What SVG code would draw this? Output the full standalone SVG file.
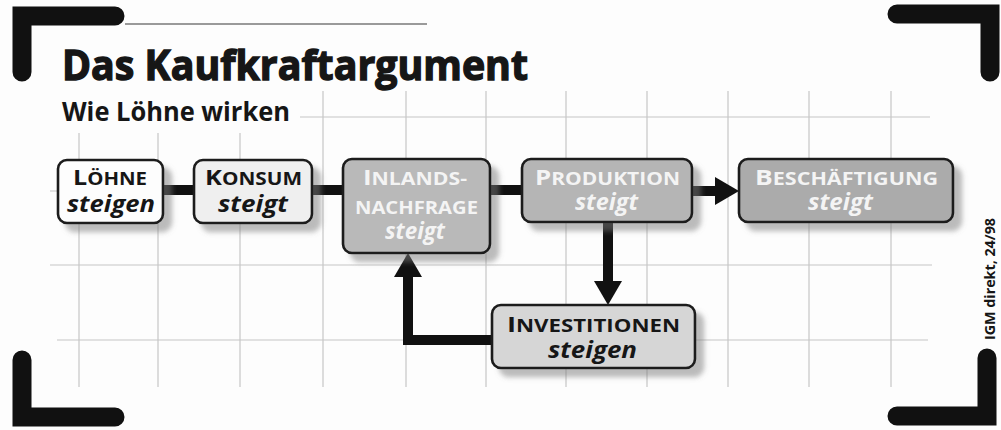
<svg xmlns="http://www.w3.org/2000/svg" width="1001" height="430" viewBox="0 0 1001 430">
<style>
.grid line{stroke:#c6c6c6;stroke-width:1.2}
.brk{fill:none;stroke:#111;stroke-width:19;stroke-linecap:round;stroke-linejoin:miter}
.box{stroke:#1a1a1a;stroke-width:2.6;filter:url(#sh)}
.t{font-family:"Open Sans","Liberation Sans",sans-serif;font-weight:700}
.cap{font-size:21.5px}
.sc{font-size:17.5px}
.it{font-family:"Open Sans","Liberation Sans",sans-serif;font-weight:700;font-style:italic;font-size:24px}
.dk{fill:#161616}
.lt{fill:#f4f4f4}
.con{fill:none;stroke:#111;stroke-width:10}
</style>
<defs>
<filter id="sh" x="-20%" y="-20%" width="150%" height="160%">
<feDropShadow dx="8" dy="8" stdDeviation="2.5" flood-color="#7a7a7a" flood-opacity="0.5"/>
</filter>
<marker id="ah" markerUnits="userSpaceOnUse" markerWidth="26" markerHeight="30" refX="4" refY="14" orient="auto">
<path d="M0,0 L24,14 L0,28 z" fill="#111"/>
</marker>
</defs>
<rect width="1001" height="430" fill="#fdfdfd"/>
<g class="grid">
<line x1="79" y1="133" x2="79" y2="387"/>
<line x1="158" y1="133" x2="158" y2="387"/>
<line x1="240" y1="133" x2="240" y2="387"/>
<line x1="323" y1="91" x2="323" y2="387"/>
<line x1="406" y1="91" x2="406" y2="387"/>
<line x1="486" y1="91" x2="486" y2="387"/>
<line x1="566" y1="91" x2="566" y2="387"/>
<line x1="647" y1="91" x2="647" y2="387"/>
<line x1="728" y1="91" x2="728" y2="387"/>
<line x1="809" y1="91" x2="809" y2="387"/>
<line x1="891" y1="91" x2="891" y2="387"/>
<line x1="300" y1="117" x2="930" y2="117"/>
<line x1="50" y1="191" x2="930" y2="191"/>
<line x1="50" y1="265" x2="932" y2="265"/>
<line x1="57" y1="340" x2="928" y2="340"/>
</g>
<line x1="125" y1="24" x2="427" y2="24" stroke="#9a9a9a" stroke-width="2"/>
<g id="brackets">
<path class="brk" d="M22 72 L22 16 L115 16"/>
<path class="brk" d="M897 14 L990 14 L990 72"/>
<path class="brk" d="M22 360 L22 417 L115 417"/>
<path class="brk" d="M897 416 L987 416 L987 358"/>
</g>
<text x="62" y="80" class="t dk" font-size="42" font-weight="800" stroke="#161616" stroke-width="1.4" textLength="466" lengthAdjust="spacingAndGlyphs">Das Kaufkraftargument</text>
<text x="62" y="121" font-family="Open Sans, Liberation Sans, sans-serif" font-weight="700" font-size="27" fill="#161616" textLength="228" lengthAdjust="spacingAndGlyphs">Wie Löhne wirken</text>
<g id="connectors">
<path class="con" d="M163 190 H194"/>
<path class="con" d="M312 190 H343"/>
<path class="con" d="M490 190 H522"/>
<path class="con" d="M692 191 H719" marker-end="url(#ah)"/>
<path class="con" d="M608 222 V285" marker-end="url(#ah)"/>
<path class="con" d="M492 340 H408 V273" marker-end="url(#ah)"/>
</g>
<g id="loehne">
<rect class="box" x="58" y="160" width="105" height="63" rx="9" fill="#fdfdfd"/>
<text x="73" y="185" class="t dk" textLength="74" lengthAdjust="spacingAndGlyphs"><tspan class="cap">L</tspan><tspan class="sc">ÖHNE</tspan></text>
<text x="67" y="212" class="it dk" textLength="88" lengthAdjust="spacingAndGlyphs">steigen</text>
</g>
<g id="konsum">
<rect class="box" x="194" y="160" width="118" height="63" rx="9" fill="#efefef"/>
<text x="205" y="185" class="t dk" textLength="97" lengthAdjust="spacingAndGlyphs"><tspan class="cap">K</tspan><tspan class="sc">ONSUM</tspan></text>
<text x="218" y="212" class="it dk" textLength="70" lengthAdjust="spacingAndGlyphs">steigt</text>
</g>
<g id="inlandsnachfrage">
<rect class="box" x="343" y="159" width="147" height="94" rx="9" fill="#b9b9b9"/>
<text x="363" y="185" class="t lt" textLength="104" lengthAdjust="spacingAndGlyphs"><tspan class="cap">I</tspan><tspan class="sc">NLANDS-</tspan></text>
<text x="355" y="214" class="t lt sc" textLength="123" lengthAdjust="spacingAndGlyphs">NACHFRAGE</text>
<text x="385" y="239" class="it lt" font-size="22" textLength="60" lengthAdjust="spacingAndGlyphs">steigt</text>
</g>
<g id="produktion">
<rect class="box" x="522" y="159" width="170" height="63" rx="9" fill="#b5b5b5"/>
<text x="535" y="185" class="t lt" textLength="145" lengthAdjust="spacingAndGlyphs"><tspan class="cap">P</tspan><tspan class="sc">RODUKTION</tspan></text>
<text x="575" y="210" class="it lt" font-size="22" textLength="63" lengthAdjust="spacingAndGlyphs">steigt</text>
</g>
<g id="beschaeftigung">
<rect class="box" x="739" y="159" width="214" height="63" rx="9" fill="#ababab"/>
<text x="755" y="185" class="t lt" textLength="183" lengthAdjust="spacingAndGlyphs"><tspan class="cap">B</tspan><tspan class="sc">ESCHÄFTIGUNG</tspan></text>
<text x="808" y="210" class="it lt" font-size="22" textLength="65" lengthAdjust="spacingAndGlyphs">steigt</text>
</g>
<g id="investitionen">
<rect class="box" x="492" y="305" width="203" height="63" rx="9" fill="#d6d6d6"/>
<text x="507" y="332" class="t dk" textLength="173" lengthAdjust="spacingAndGlyphs"><tspan class="cap">I</tspan><tspan class="sc">NVESTITIONEN</tspan></text>
<text x="548" y="358" class="it dk" textLength="89" lengthAdjust="spacingAndGlyphs">steigen</text>
</g>
<text transform="translate(995,340) rotate(-90)" class="t dk" font-size="14" textLength="122" lengthAdjust="spacingAndGlyphs">IGM direkt, 24/98</text>
</svg>
